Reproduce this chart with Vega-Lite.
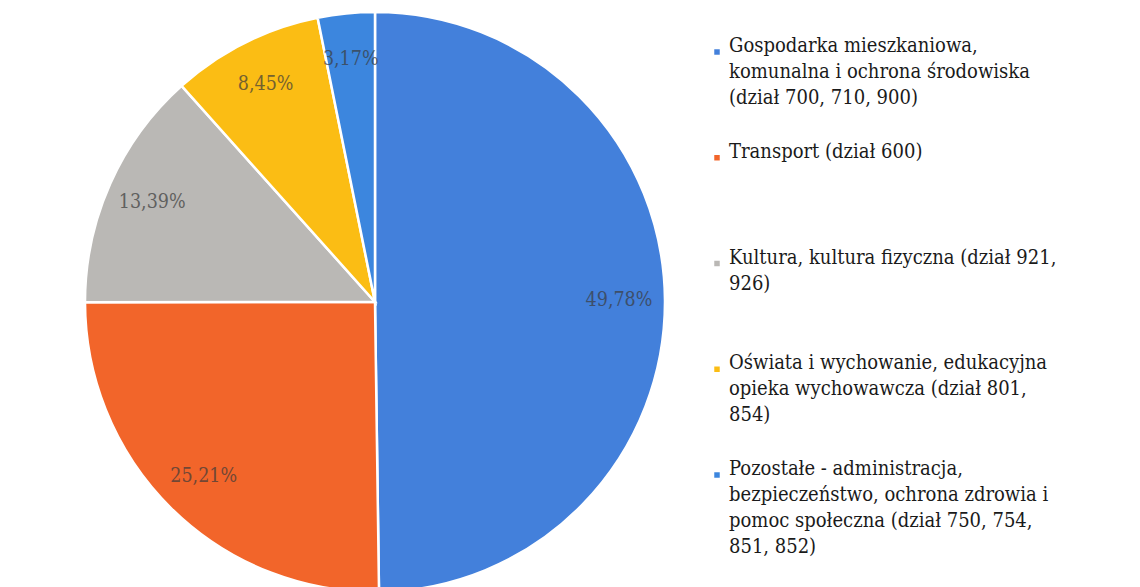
{
  "$schema": "https://vega.github.io/schema/vega-lite/v6.json",
  "padding": {"left": 80, "top": 0, "right": 0, "bottom": 0},
  "background": "white",
  "config": {"view": {"stroke": null}, "font": "DejaVu Serif"},
  "data": {
    "values": [
      {"rank": 1, "category": "Gospodarka mieszkaniowa", "value": 49.78, "label": "49,78%", "legend": "Gospodarka mieszkaniowa,\nkomunalna i ochrona środowiska\n(dział 700, 710, 900)"},
      {"rank": 2, "category": "Transport", "value": 25.21, "label": "25,21%", "legend": "Transport (dział 600)"},
      {"rank": 3, "category": "Kultura", "value": 13.39, "label": "13,39%", "legend": "Kultura, kultura fizyczna (dział  921,\n926)"},
      {"rank": 4, "category": "Oświata", "value": 8.45, "label": "8,45%", "legend": "Oświata i wychowanie, edukacyjna\nopieka wychowawcza (dział 801,\n854)"},
      {"rank": 5, "category": "Pozostałe", "value": 3.17, "label": "3,17%", "legend": "Pozostałe - administracja,\nbezpieczeństwo, ochrona zdrowia i\npomoc społeczna (dział 750, 754,\n851, 852)"}
    ]
  },
  "hconcat": [
    {
      "width": 580,
      "height": 604,
      "encoding": {
        "theta": {"field": "value", "type": "quantitative", "stack": true},
        "order": {"field": "rank", "type": "quantitative", "sort": "ascending"}
      },
      "layer": [
        {
          "mark": {"type": "arc", "outerRadius": 290, "stroke": "white", "strokeWidth": 2.5},
          "encoding": {
            "color": {
              "field": "category",
              "type": "nominal",
              "scale": {
                "domain": ["Gospodarka mieszkaniowa", "Transport", "Kultura", "Oświata", "Pozostałe"],
                "range": ["#4380db", "#f2652a", "#bab8b5", "#fbbd14", "#3c86de"]
              },
              "legend": null
            }
          }
        },
        {
          "mark": {"type": "text", "radius": 244, "fontSize": 19.5, "fill": "#3b3b3b", "opacity": 0.7, "font": "DejaVu Serif Condensed, DejaVu Serif"},
          "encoding": {"text": {"field": "label", "type": "nominal"}}
        }
      ]
    },
    {
      "width": 400,
      "height": 604,
      "encoding": {
        "x": {"datum": 0, "type": "quantitative", "scale": {"domain": [0, 1]}, "axis": null},
        "y": {"field": "rank", "type": "quantitative", "scale": {"domain": [1, 5], "range": [52, 475]}, "axis": null}
      },
      "layer": [
        {
          "mark": {"type": "point", "shape": "square", "filled": true, "size": 30, "opacity": 1, "dy": -7},
          "encoding": {
            "color": {
              "field": "category",
              "type": "nominal",
              "scale": {
                "domain": ["Gospodarka mieszkaniowa", "Transport", "Kultura", "Oświata", "Pozostałe"],
                "range": ["#3f7fd6", "#f27d45", "#b0aeac", "#fbbd14", "#3c80d8"]
              },
              "legend": null
            }
          }
        },
        {
          "mark": {"type": "text", "align": "left", "baseline": "alphabetic", "dx": 12, "fontSize": 20, "lineHeight": 26, "lineBreak": "\n", "fill": "#1a1a1a", "font": "DejaVu Serif Condensed, DejaVu Serif"},
          "encoding": {"text": {"field": "legend", "type": "nominal"}}
        }
      ]
    }
  ],
  "spacing": 44
}
